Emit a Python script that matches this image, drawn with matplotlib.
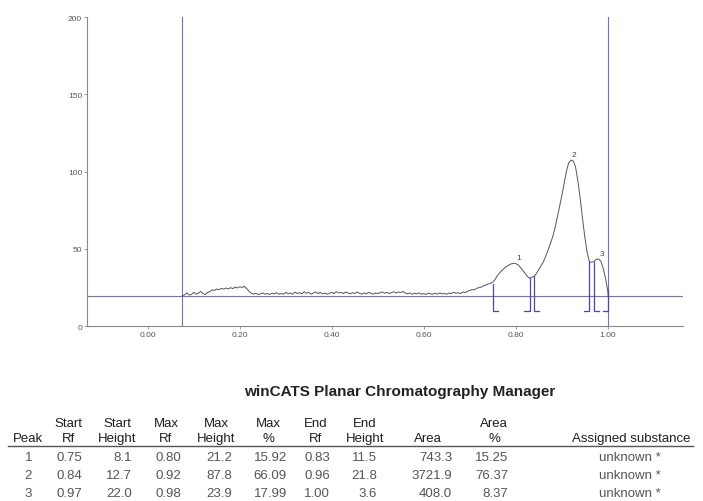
import numpy as np
import matplotlib.pyplot as plt

plt.rcParams['font.family'] = ['Liberation Sans', 'DejaVu Sans']

# densitogram scan, signal every 0.005 Rf from 0.075 to 1.000
trace_signal = [
    19.6, 20.2, 21.4, 20.0, 20.4, 21.8, 20.6, 21.2, 22.4, 21.0,
    20.4, 21.8, 22.2, 23.4, 23.0, 24.0, 23.4, 24.4, 23.8, 24.6,
    24.0, 24.8, 24.2, 25.2, 24.6, 25.4, 25.0, 25.6, 24.2, 22.6,
    21.2, 20.6, 21.2, 20.4, 20.8, 21.4, 20.6, 21.0, 20.4, 21.2,
    20.8, 21.6, 20.6, 21.0, 20.6, 21.8, 20.8, 21.4, 20.6, 22.0,
    21.0, 21.6, 20.8, 22.2, 21.2, 21.8, 20.6, 21.4, 22.0, 21.0,
    21.8, 20.8, 21.4, 20.6, 21.2, 21.8, 21.0, 22.2, 21.4, 21.8,
    21.0, 22.0, 21.4, 20.8, 21.6, 21.0, 22.0, 21.2, 20.6, 21.4,
    20.8, 21.8, 21.2, 20.6, 21.4, 21.0, 21.6, 22.0, 21.2, 21.8,
    21.0, 21.6, 22.2, 21.4, 22.0, 21.6, 22.4, 21.2, 20.8, 21.4,
    20.6, 21.2, 20.8, 21.4, 20.6, 21.0, 20.4, 21.2, 20.8, 20.6,
    21.2, 20.6, 21.4, 20.8, 21.0, 20.6, 21.4, 21.0, 21.8, 21.2,
    21.6, 21.0, 22.0, 21.6, 22.4, 23.0, 23.6, 23.4, 24.4, 24.8,
    25.2, 26.0, 26.6, 27.2, 27.6, 28.4, 30.0, 32.6, 34.4, 36.0,
    37.4, 38.6, 39.4, 40.2, 40.6, 40.4, 39.6, 38.0, 36.2, 34.2,
    32.2, 31.0, 31.6, 32.2, 34.0, 36.5, 39.0, 41.5, 45.0, 49.0,
    53.0, 57.5, 63.0, 70.0, 77.0, 84.0, 92.0, 100.0, 105.5, 107.4,
    106.8, 103.0, 94.0, 83.0, 70.0, 58.0, 48.0, 41.6, 41.2, 41.8,
    43.2, 43.3, 42.0, 37.5, 31.0, 23.0,
]
trace_rf = np.linspace(0.075, 1.0, len(trace_signal))

baseline = 19.4
start_line_rf = 0.074
front_rf = 1.00

# peak table
peak_ids = [1, 2, 3]
start_rf = [0.75, 0.84, 0.97]
start_height = [8.1, 12.7, 22.0]
max_rf = [0.80, 0.92, 0.98]
max_height = [21.2, 87.8, 23.9]
max_pct = [15.92, 66.09, 17.99]
end_rf = [0.83, 0.96, 1.00]
end_height = [11.5, 21.8, 3.6]
area = [743.3, 3721.9, 408.0]
area_pct = [15.25, 76.37, 8.37]
substance = ["unknown *", "unknown *", "unknown *"]

fig = plt.figure(figsize=(7.03, 5.02), dpi=100)
ax = fig.add_axes([0.1238, 0.3486, 0.848, 0.6155])

blue = '#7272bb'
ax.axhline(baseline, color=blue, lw=0.8)
ax.axvline(start_line_rf, color=blue, lw=0.8)
ax.axvline(front_rf, color=blue, lw=0.8)

ax.plot(list(trace_rf) + [1.001], trace_signal + [baseline], color='#555555', lw=0.7)

# peak start/end brackets
bottom = 9.7
tick = 0.011
for s, sh, e, eh in zip(start_rf, start_height, end_rf, end_height):
    ax.plot([s + tick, s, s], [bottom, bottom, baseline + sh], color='#4a4aa6', lw=0.9)
    ax.plot([e - tick, e, e], [bottom, bottom, baseline + eh], color='#4a4aa6', lw=0.9)

for pid, mr, mh in zip(peak_ids, max_rf, max_height):
    ax.text(mr + 0.002, baseline + mh + 1.5, str(pid), fontsize=6, color='#444444',
            ha='left', va='bottom')

ax.set_xlim(-0.132, 1.164)
ax.set_ylim(0, 200)
ax.set_xticks([0.0, 0.2, 0.4, 0.6, 0.8, 1.0])
ax.set_xticklabels(['0.00', '0.20', '0.40', '0.60', '0.80', '1.00'])
ax.set_yticks([0, 50, 100, 150, 200])
for side in ['top', 'right']:
    ax.spines[side].set_visible(False)
for side in ['left', 'bottom']:
    ax.spines[side].set_color('#888888')
    ax.spines[side].set_linewidth(0.8)
ax.tick_params(axis='both', labelsize=6, colors='#888888', labelcolor='#555555',
               length=2.5, width=0.6, pad=1)

# report table
W, H = 703, 502
fig.text(400 / W, 1 - 392 / H, 'winCATS Planar Chromatography Manager',
         fontsize=11, fontweight='bold', ha='center', va='center', color='#222222')

# (header line 1, header line 2, header centre x, values, format, values right edge x)
columns = [
    ('', 'Peak', 28, peak_ids, '{}', 32),
    ('Start', 'Rf', 68.5, start_rf, '{:.2f}', 82.5),
    ('Start', 'Height', 117.5, start_height, '{:.1f}', 132),
    ('Max', 'Rf', 166, max_rf, '{:.2f}', 181.5),
    ('Max', 'Height', 216, max_height, '{:.1f}', 232),
    ('Max', '%', 268, max_pct, '{:.2f}', 287),
    ('End', 'Rf', 316, end_rf, '{:.2f}', 330),
    ('End', 'Height', 365, end_height, '{:.1f}', 377),
    ('', 'Area', 428, area, '{:.1f}', 452),
    ('Area', '%', 494, area_pct, '{:.2f}', 508),
]
head1_y, head2_y = 424, 439
row_ys = [458, 476, 494]
fs = 9.5
head_color = '#1e1e1e'
for top, bot, hx, vals, fmt, vx in columns:
    if top:
        fig.text(hx / W, 1 - head1_y / H, top, fontsize=fs, ha='center', va='center',
                 color=head_color)
    fig.text(hx / W, 1 - head2_y / H, bot, fontsize=fs, ha='center', va='center',
             color=head_color)
    for v, ry in zip(vals, row_ys):
        fig.text(vx / W, 1 - ry / H, fmt.format(v), fontsize=fs, ha='right', va='center',
                 color='#555555')

fig.text(631 / W, 1 - head2_y / H, 'Assigned substance', fontsize=fs, ha='center',
         va='center', color=head_color)
for s, ry in zip(substance, row_ys):
    fig.text(630 / W, 1 - ry / H, s, fontsize=fs, ha='center', va='center', color='#555555')

fig.add_artist(plt.Line2D([8 / W, 693 / W], [1 - 447 / H, 1 - 447 / H],
                          color='#555555', lw=1.0))

fig.savefig('out.png', dpi=100)
